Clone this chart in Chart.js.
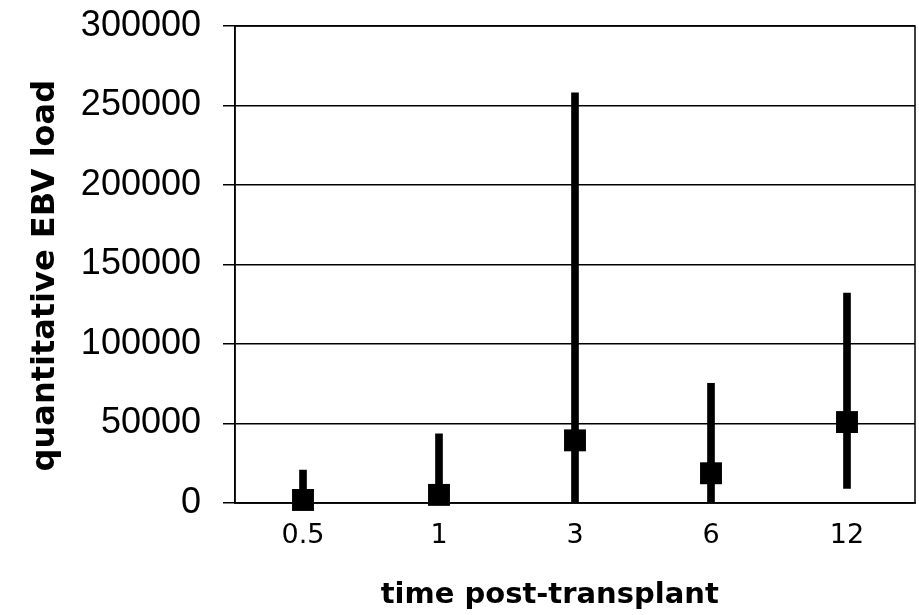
<!DOCTYPE html>
<html>
<head>
<meta charset="utf-8">
<script src="https://cdn.jsdelivr.net/npm/chart.js@4/dist/chart.umd.min.js"></script>
<style>
  html, body { margin: 0; padding: 0; background: #fff; }
  #wrap { width: 919px; height: 615px; }
</style>
</head>
<body>
<div id="wrap"><canvas id="ebv-load__chart"></canvas></div>
<script>
// months post-transplant
var timeLabels = ['0.5', '1', '3', '6', '12'];
// median EBV load at each time point
var medianLoad = [1900, 5100, 39400, 18700, 50900];
// range (low / high) of EBV load
var rangeLow = [0, 0, 0, 0, 9200];
var rangeHigh = [20700, 43500, 258000, 75300, 132000];

var rangeBars = timeLabels.map(function (t, i) { return [rangeLow[i], rangeHigh[i]]; });

// box round the plot area (top + right edges)
var frameBox = {
    id: 'frameBox',
    afterDraw: function (chart) {
        var a = chart.chartArea, c = chart.ctx;
        c.save();
        c.strokeStyle = '#000';
        c.lineWidth = 1.5;
        c.strokeRect(a.left, a.top, a.right - a.left, a.bottom - a.top);
        c.restore();
    }
};

var ctx = document.getElementById('ebv-load__chart').getContext('2d');
var ebvChart = new Chart(ctx, {
    type: 'bar',
    data: {
        labels: timeLabels,
        datasets: [{
            type: 'line',
            data: medianLoad,
            showLine: false,
            clip: false,
            pointStyle: 'rect',
            pointRadius: 15.5,
            pointHoverRadius: 15.5,
            backgroundColor: '#000',
            borderColor: '#000',
            borderWidth: 0,
            order: 0
        }, {
            data: rangeBars,
            backgroundColor: '#000',
            borderWidth: 0,
            barThickness: 7,
            order: 1
        }]
    },
    options: {
        responsive: true,
        maintainAspectRatio: false,
        animation: false,
        layout: { autoPadding: false, padding: { top: 26, right: 4, bottom: 0, left: 0 } },
        plugins: {
            legend: { display: false },
            tooltip: { enabled: false }
        },
        scales: {
            x: {
                offset: true,
                grid: { display: false, drawTicks: false },
                border: { color: '#000', width: 1.5 },
                ticks: {
                    color: '#000',
                    padding: 17,
                    font: { family: 'DejaVu Sans', size: 27 }
                },
                title: {
                    display: true,
                    // trailing spaces nudge the title left, like the original
                    text: 'time post-transplant     ',
                    color: '#000',
                    font: { family: 'DejaVu Sans', size: 29, weight: 'bold' },
                    padding: { top: 26, bottom: 2 }
                },
                afterFit: function (scale) { scale.height = 112; }
            },
            y: {
                min: 0,
                max: 300000,
                grid: { color: '#000', lineWidth: 1.5, tickLength: 12 },
                border: { color: '#000', width: 1.5 },
                ticks: {
                    stepSize: 50000,
                    color: '#000',
                    padding: 22,
                    font: { family: 'Liberation Sans', size: 36 },
                    callback: function (v) { return String(v); }
                },
                title: {
                    display: true,
                    text: 'quantitative EBV load  ',
                    color: '#000',
                    font: { family: 'DejaVu Sans', size: 32, weight: 'bold' },
                    padding: { top: 26, bottom: 0 }
                },
                afterFit: function (scale) {
                    scale.width = 235;
                    scale.paddingTop = 0;
                    scale.paddingBottom = 0;
                }
            }
        }
    },
    plugins: [frameBox]
});
</script>
</body>
</html>
